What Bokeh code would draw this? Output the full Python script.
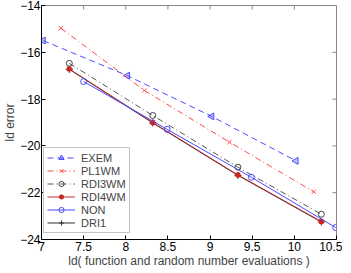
import numpy as np
from bokeh.plotting import figure
from bokeh.models import Range1d, FixedTicker, Legend, LegendItem
from bokeh.embed import file_html
from bokeh.resources import INLINE

# data
exem_x = [7.02, 8.02, 9.02, 10.02]
exem_y = [-15.5, -17.0, -18.74, -20.64]
pl1_x = [7.23, 8.22, 9.23, 10.23]
pl1_y = [-14.97, -17.63, -19.84, -21.96]
rdi3_x = [7.33, 8.32, 9.33, 10.32]
rdi3_y = [-16.47, -18.7, -20.91, -22.92]
rdi4_x = [7.33, 8.32, 9.33, 10.32]
rdi4_y = [-16.71, -19.0, -21.24, -23.23]
non_x = [7.5, 8.49, 9.49, 10.49]
non_y = [-17.25, -19.29, -21.34, -23.49]
dri1_x = [7.33, 8.32, 9.33, 10.32]
dri1_y = [-16.73, -19.02, -21.26, -23.25]

x_ticks = [7, 7.5, 8, 8.5, 9, 9.5, 10, 10.5]
y_ticks = [-24, -22, -20, -18, -16, -14]

X0, X1, Y0, Y1 = 7, 10.5, -24, -14
FW, FH = 295, 234

FONT = "Liberation Sans"
FS = "12px"

p = figure(output_backend="svg", toolbar_location=None,
           x_range=Range1d(X0, X1), y_range=Range1d(Y0, Y1),
           frame_width=FW, frame_height=FH,
           min_border_left=0, min_border_right=6, min_border_top=5, min_border_bottom=0)
p.outline_line_color = "#888888"
p.outline_line_width = 1
p.grid.visible = False
p.background_fill_color = "white"

for ax in [p.xaxis[0], p.yaxis[0]]:
    ax.major_tick_in = 4
    ax.major_tick_out = 0
    ax.minor_tick_line_color = None
    ax.axis_line_color = "black"
    ax.major_tick_line_color = "black"
    ax.major_label_text_font = FONT
    ax.major_label_text_font_size = FS
    ax.major_label_text_color = "black"
    ax.axis_label_text_font = FONT
    ax.axis_label_text_font_size = FS
    ax.axis_label_text_font_style = "normal"
    ax.axis_label_standoff = 0

p.xaxis[0].major_label_standoff = 2
p.yaxis[0].major_label_standoff = 1
p.xaxis[0].ticker = FixedTicker(ticks=x_ticks)
p.yaxis[0].ticker = FixedTicker(ticks=y_ticks)
p.xaxis[0].axis_label = "ld( function and random number evaluations )"
p.yaxis[0].axis_label = "ld error"
p.yaxis[0].major_label_overrides = {t: "\u2212%d" % abs(t) for t in y_ticks}

# inward ticks on the top and right edges of the box
tx = 4 * (X1 - X0) / FW
ty = 4 * (Y1 - Y0) / FH
p.segment(x0=x_ticks, y0=[Y1] * len(x_ticks), x1=x_ticks, y1=[Y1 - ty] * len(x_ticks),
          line_color="#888888", line_width=1)
p.segment(x0=[X1] * len(y_ticks), y0=y_ticks, x1=[X1 - tx] * len(y_ticks), y1=y_ticks,
          line_color="#888888", line_width=1)

BLUE = "#4a4aff"
RED = "#ff4a4a"
BLACK = "#333333"
items = []

l = p.line(exem_x, exem_y, line_color=BLUE, line_dash="6 4", line_width=1)
s = p.scatter(exem_x, exem_y, marker="triangle", angle=np.pi / 2, size=7,
              line_color=BLUE, fill_color=BLUE, fill_alpha=0.3)
items.append(LegendItem(label="EXEM", renderers=[l, s]))

l = p.line(pl1_x, pl1_y, line_color=RED, line_dash="6 3 1 3", line_width=1)
s = p.scatter(pl1_x, pl1_y, marker="x", size=6, line_color=RED)
items.append(LegendItem(label="PL1WM", renderers=[l, s]))

l = p.line(rdi3_x, rdi3_y, line_color="#555555", line_dash="6 3 1 3", line_width=1)
s = p.scatter(rdi3_x, rdi3_y, marker="circle", size=6, line_color="#444444",
              fill_color="white", fill_alpha=0)
items.append(LegendItem(label="RDI3WM", renderers=[l, s]))

l2 = p.line(dri1_x, dri1_y, line_color=BLACK, line_width=1)
s2 = p.scatter(dri1_x, dri1_y, marker="cross", size=7, line_color=BLACK)

l = p.line(rdi4_x, rdi4_y, line_color="#c03030", line_width=1)
s = p.scatter(rdi4_x, rdi4_y, marker="asterisk", size=6, line_color="#cc2222", line_width=1.5)
items.append(LegendItem(label="RDI4WM", renderers=[l, s]))

l = p.line(non_x, non_y, line_color=BLUE, line_width=1)
s = p.scatter(non_x, non_y, marker="circle", size=6, line_color=BLUE,
              fill_color="white", fill_alpha=0)
items.append(LegendItem(label="NON", renderers=[l, s]))

items.append(LegendItem(label="DRI1", renderers=[l2, s2]))

legend = Legend(items=items, location=(2, 6),
                label_text_font=FONT, label_text_font_size="11px",
                label_text_line_height=1.0,
                label_height=13, glyph_height=13, glyph_width=28,
                spacing=0, padding=3, margin=0, label_standoff=6,
                border_line_color="#888888", border_line_width=1,
                background_fill_color="white", background_fill_alpha=1)
p.add_layout(legend, "center")

open("out.html", "w").write(file_html(p, INLINE))
